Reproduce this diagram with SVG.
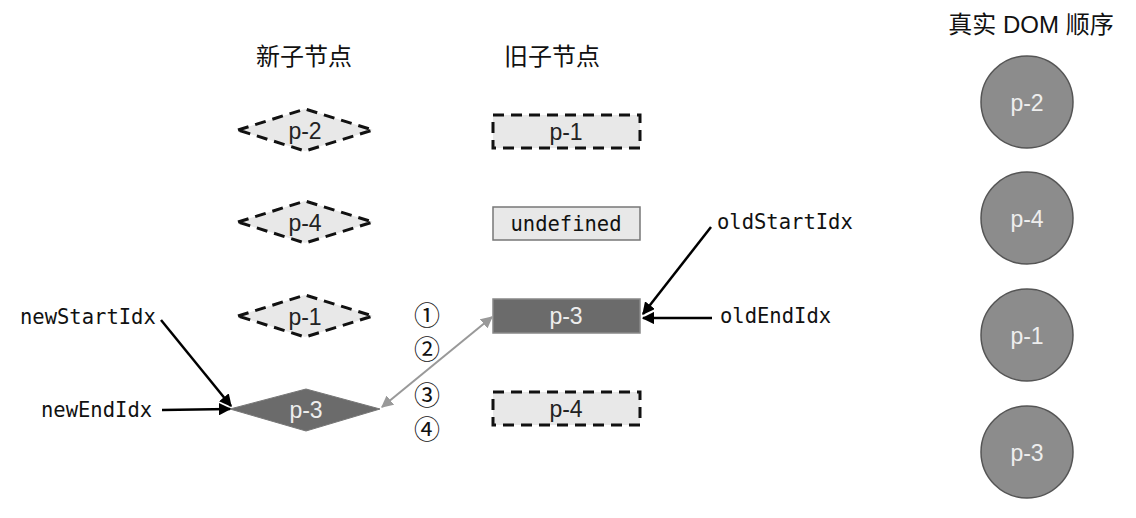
<svg xmlns="http://www.w3.org/2000/svg" width="1136" height="518" viewBox="0 0 1136 518">
<style>
.h{font-family:"Liberation Sans","Noto Sans CJK SC",sans-serif;font-size:24px;fill:#111;text-anchor:middle}
.t{font-family:"Liberation Sans",Arial,sans-serif;font-size:23px;text-anchor:middle;dominant-baseline:central}
.n{font-family:"Noto Sans CJK SC",sans-serif;font-size:26px;text-anchor:middle;dominant-baseline:central;fill:#111}
.m{font-family:"DejaVu Sans Mono",monospace;font-size:20.5px;fill:#111;dominant-baseline:central}
.dd{fill:#e8e8e8;stroke:#111;stroke-width:3;stroke-dasharray:11,7}
.dr{fill:#e8e8e8;stroke:#111;stroke-width:3;stroke-dasharray:11,7}
.c{fill:#8c8c8c;stroke:#555;stroke-width:1.5}
.k{stroke:#000;stroke-width:2.5;fill:none}
</style>
<defs>
<marker id="ab" viewBox="0 0 10 10" refX="9" refY="5" markerWidth="5" markerHeight="5" orient="auto"><path d="M0,0 L10,5 L0,10 z" fill="#000"/></marker>
<marker id="ag" viewBox="0 0 10 10" refX="9" refY="5" markerWidth="6" markerHeight="6" orient="auto-start-reverse"><path d="M0,0 L10,5 L0,10 z" fill="#999"/></marker>
</defs>
<text class="h" x="304" y="65">新子节点</text>
<text class="h" x="552" y="65">旧子节点</text>
<text class="h" x="1031" y="33">真实 DOM 顺序</text>
<g id="new-p2"><polygon class="dd" points="238,130 305,109 373,130 305,151"/><text class="t" x="305" y="131" fill="#222">p-2</text></g>
<g id="new-p4"><polygon class="dd" points="238,222 305,201 373,222 305,243"/><text class="t" x="305" y="223" fill="#222">p-4</text></g>
<g id="new-p1"><polygon class="dd" points="238,316 305,295 373,316 305,337"/><text class="t" x="305" y="317" fill="#222">p-1</text></g>
<g id="new-p3"><polygon points="230,409 306,389 380,409 306,431" fill="#6b6b6b" stroke="#777" stroke-width="1"/><text class="t" x="306" y="410" fill="#eee">p-3</text></g>
<g id="old-p1"><rect class="dr" x="493" y="115" width="147" height="33"/><text class="t" x="566" y="132" fill="#222">p-1</text></g>
<g id="old-undef"><rect x="493" y="207" width="147" height="33" fill="#e8e8e8" stroke="#777" stroke-width="1.5"/><text class="m" x="566" y="224" text-anchor="middle">undefined</text></g>
<g id="old-p3"><rect x="493" y="299" width="147" height="34" fill="#6b6b6b" stroke="#888" stroke-width="1.5"/><text class="t" x="566" y="316" fill="#eee">p-3</text></g>
<g id="old-p4"><rect class="dr" x="493" y="392" width="147" height="33"/><text class="t" x="566" y="409" fill="#222">p-4</text></g>
<g id="dom-p2"><circle class="c" cx="1027" cy="102" r="46"/><text class="t" x="1027" y="103" fill="#eee">p-2</text></g>
<g id="dom-p4"><circle class="c" cx="1027" cy="218" r="46"/><text class="t" x="1027" y="219" fill="#eee">p-4</text></g>
<g id="dom-p1"><circle class="c" cx="1027" cy="335" r="46"/><text class="t" x="1027" y="336" fill="#eee">p-1</text></g>
<g id="dom-p3"><circle class="c" cx="1027" cy="452" r="46"/><text class="t" x="1027" y="453" fill="#eee">p-3</text></g>
<g id="labels">
<text class="m" x="20" y="317">newStartIdx</text>
<text class="m" x="41" y="410">newEndIdx</text>
<text class="m" x="717" y="222">oldStartIdx</text>
<text class="m" x="720" y="316">oldEndIdx</text>
<text class="n" x="427" y="313">①</text>
<text class="n" x="427" y="347">②</text>
<text class="n" x="427" y="393">③</text>
<text class="n" x="427" y="427">④</text>
</g>
<g id="connectors">
<line class="k" x1="161" y1="320" x2="231" y2="406" marker-end="url(#ab)"/>
<line class="k" x1="162" y1="410" x2="230" y2="409" marker-end="url(#ab)"/>
<line class="k" x1="711" y1="227" x2="643" y2="314" marker-end="url(#ab)"/>
<line class="k" x1="712" y1="318" x2="643" y2="318" marker-end="url(#ab)"/>
<line x1="382" y1="407" x2="492" y2="317" stroke="#999" stroke-width="2" marker-start="url(#ag)" marker-end="url(#ag)"/>
</g>
</svg>
